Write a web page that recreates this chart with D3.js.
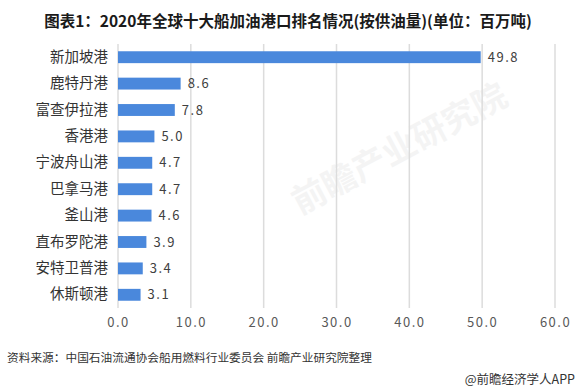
<!DOCTYPE html>
<html><head><meta charset="utf-8">
<script src="https://cdn.jsdelivr.net/npm/d3@7"></script>
<style>body{margin:0;background:#fff;}svg{display:block;font-family:"Noto Sans CJK SC","Noto Sans",sans-serif;}</style>
</head><body>
<script>
const categories = ["新加坡港","鹿特丹港","富查伊拉港","香港港","宁波舟山港","巴拿马港","釜山港","直布罗陀港","安特卫普港","休斯顿港"];
const values = [49.8, 8.6, 7.8, 5.0, 4.7, 4.7, 4.6, 3.9, 3.4, 3.1];
const xTicks = [0, 10, 20, 30, 40, 50, 60];
const titleText = "图表1：2020年全球十大船加油港口排名情况(按供油量)(单位：百万吨)";
const sourceText = "资料来源：中国石油流通协会船用燃料行业委员会 前瞻产业研究院整理";
const brandText = "@前瞻经济学人APP";

const W = 577, H = 392;
const svg = d3.select("body").append("svg").attr("width", W).attr("height", H);
const x = d3.scaleLinear().domain([0, 60]).range([118, 555]);
const y = d3.scaleBand().domain(categories).range([44, 308]).paddingInner(0.55).paddingOuter(0.275);

// watermark
const wm = svg.append("g").attr("opacity", 0.04).attr("fill", "#000");
wm.append("text").attr("transform", "translate(300,215) rotate(-28)").attr("font-size", 34).attr("font-weight", "bold").text("前瞻产业研究院");

// title
svg.append("text").attr("x", 288).attr("y", 27).attr("text-anchor", "middle")
  .attr("font-size", 15.5).attr("font-weight", "bold").attr("fill", "#1a1a1a").text(titleText);

// gridlines
svg.append("g").selectAll("line").data(xTicks).join("line")
  .attr("x1", d => x(d)).attr("x2", d => x(d)).attr("y1", 44).attr("y2", 308)
  .attr("stroke", "#dcdcdc").attr("stroke-width", 1.5);

// x axis labels
const xAxis = d3.axisBottom(x).tickValues(xTicks).tickFormat(d3.format(".1f")).tickSize(0).tickPadding(0);
const gx = svg.append("g").attr("transform", "translate(0,318)").call(xAxis);
gx.select(".domain").remove();
gx.selectAll("text").attr("font-size", 13).attr("fill", "#595959").attr("letter-spacing", "1.5px")
  .attr("font-family", "\"Noto Sans CJK SC\",sans-serif");

// y axis labels
const yAxis = d3.axisLeft(y).tickSize(0).tickPadding(10);
const gy = svg.append("g").attr("transform", "translate(118,0)").call(yAxis);
gy.select(".domain").remove();
gy.selectAll("text").attr("font-size", 14.5).attr("fill", "#333").attr("font-family", "\"Noto Sans CJK SC\",sans-serif");

// bars
const data = categories.map((c, i) => ({c, v: values[i]}));
svg.append("g").selectAll("rect").data(data).join("rect")
  .attr("x", x(0)).attr("y", d => y(d.c)).attr("width", d => x(d.v) - x(0)).attr("height", y.bandwidth())
  .attr("fill", "#4a88dc");

// value labels
svg.append("g").selectAll("text").data(data).join("text")
  .attr("x", d => x(d.v) + 7).attr("y", d => y(d.c) + y.bandwidth() / 2).attr("dy", "0.36em")
  .attr("font-size", 13).attr("fill", "#404040").attr("letter-spacing", "1.5px")
  .text(d => d3.format(".1f")(d.v));

// source
svg.append("text").attr("x", 7).attr("y", 362).attr("font-size", 11.7).attr("fill", "#333").text(sourceText);
svg.append("text").attr("x", 575).attr("y", 384).attr("text-anchor", "end").attr("font-size", 12.5).attr("fill", "#333").text(brandText);
</script>
</body></html>
